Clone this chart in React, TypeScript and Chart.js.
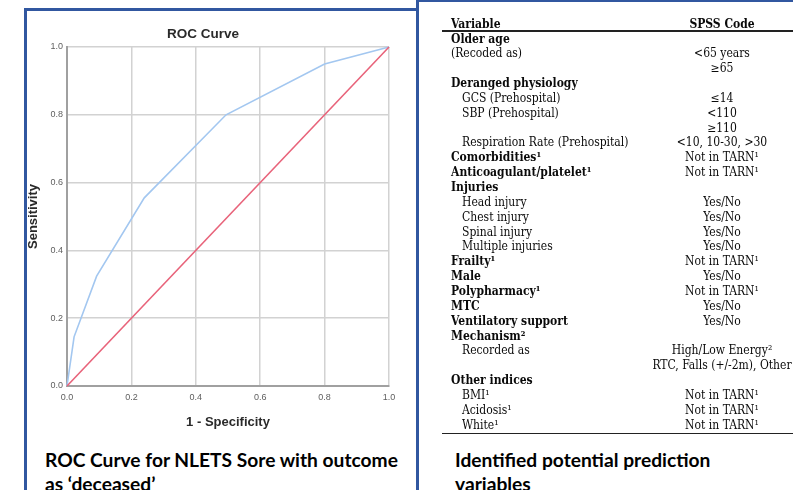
import React, { useEffect, useRef } from "react";
import { Chart, registerables } from "chart.js";

Chart.register(...registerables);

// ROC curve data
const rocFpr = [0, 0.022, 0.092, 0.24, 0.494, 0.8, 1];
const rocTpr = [0, 0.145, 0.324, 0.555, 0.8, 0.95, 1];
const refFpr = [0, 1];
const refTpr = [0, 1];

const chartTitle = "ROC Curve";
const xAxisTitle = "1 - Specificity";
const yAxisTitle = "Sensitivity";
const leftCaption = ["ROC Curve for NLETS Sore with outcome", "as \u2018deceased\u2019"];
const rightCaption = ["Identified potential prediction", "variables"];

// Table
const tableHeaders = ["Variable", "SPSS Code"];
const variableLabels = [
  "Older age",
  "(Recoded as)",
  "",
  "Deranged physiology",
  "GCS (Prehospital)",
  "SBP (Prehospital)",
  "",
  "Respiration Rate (Prehospital)",
  "Comorbidities\u00b9",
  "Anticoagulant/platelet\u00b9",
  "Injuries",
  "Head injury",
  "Chest injury",
  "Spinal injury",
  "Multiple injuries",
  "Frailty\u00b9",
  "Male",
  "Polypharmacy\u00b9",
  "MTC",
  "Ventilatory support",
  "Mechanism\u00b2",
  "Recorded as",
  "",
  "Other indices",
  "BMI\u00b9",
  "Acidosis\u00b9",
  "White\u00b9",
];
const spssCodes = [
  "",
  "<65 years",
  "\u226565",
  "",
  "\u226414",
  "<110",
  "\u2265110",
  "<10, 10-30, >30",
  "Not in TARN\u00b9",
  "Not in TARN\u00b9",
  "",
  "Yes/No",
  "Yes/No",
  "Yes/No",
  "Yes/No",
  "Not in TARN\u00b9",
  "Yes/No",
  "Not in TARN\u00b9",
  "Yes/No",
  "Yes/No",
  "",
  "High/Low Energy\u00b2",
  "RTC, Falls (+/-2m), Other",
  "",
  "Not in TARN\u00b9",
  "Not in TARN\u00b9",
  "Not in TARN\u00b9",
];
// g = group heading, s = sub item, n = note
const rowKinds = [
  "g", "n", "n", "g", "s", "s", "s", "s", "g", "g", "g", "s", "s", "s", "s",
  "g", "g", "g", "g", "g", "g", "s", "s", "g", "s", "s", "s",
];

const BLUE = "#3157a0";
const SERIF = '"DejaVu Serif Condensed", "DejaVu Serif", serif';
const CAPTION_FONT = 'Lato, "Open Sans", sans-serif';

function RocChart() {
  const ref = useRef<HTMLCanvasElement | null>(null);
  useEffect(() => {
    if (!ref.current) return;
    const axisFont = { family: "Liberation Sans, Arial, sans-serif", size: 13, weight: "bold" as const };
    const tickFont = { family: "Liberation Sans, Arial, sans-serif", size: 9 };
    const chart = new Chart(ref.current, {
      type: "scatter",
      data: {
        datasets: [
          {
            data: refFpr.map((x, i) => ({ x, y: refTpr[i] })),
            showLine: true,
            borderColor: "#e8637a",
            borderWidth: 1.6,
            pointRadius: 0,
            clip: 4,
          },
          {
            data: rocFpr.map((x, i) => ({ x, y: rocTpr[i] })),
            showLine: true,
            borderColor: "#a3c7f0",
            borderWidth: 1.6,
            pointRadius: 0,
            clip: 4,
          },
        ],
      },
      options: {
        responsive: false,
        animation: false,
        layout: { padding: { left: 0, right: 27, top: 37, bottom: 0 } },
        plugins: { legend: { display: false }, tooltip: { enabled: false } },
        scales: {
          x: {
            type: "linear",
            min: 0,
            max: 1,
            ticks: {
              stepSize: 0.2,
              font: tickFont,
              color: "#5e5e5e",
              padding: 6,
              callback: (v: any) => Number(v).toFixed(1),
            },
            grid: { color: "#d2d2d2", lineWidth: 1.5, drawTicks: false },
            border: { display: true, color: "#a0a0a0", width: 2 },
            title: {
              display: true,
              text: xAxisTitle,
              font: axisFont,
              color: "#2a2a2a",
              padding: { top: 0, bottom: 10 },
            },
            afterFit: (s: any) => {
              s.height = 54;
            },
          },
          y: {
            type: "linear",
            min: 0,
            max: 1,
            ticks: {
              stepSize: 0.2,
              font: tickFont,
              color: "#5e5e5e",
              padding: 4,
              callback: (v: any) => Number(v).toFixed(1),
            },
            grid: { color: "#d2d2d2", lineWidth: 1.5, drawTicks: false },
            border: { display: true, color: "#a0a0a0", width: 2 },
            title: {
              display: true,
              text: yAxisTitle,
              font: axisFont,
              color: "#2a2a2a",
              padding: { top: 0, bottom: 0 },
            },
            afterFit: (s: any) => {
              s.width = 41;
            },
          },
        },
      },
    });
    return () => chart.destroy();
  }, []);
  return <canvas ref={ref} width={390} height={430} style={{ width: 390, height: 430, display: "block" }} />;
}

export default function App() {
  const ROW0 = 38.5;
  const PITCH = 14.85;
  const cellBase = {
    position: "absolute" as const,
    height: 16,
    lineHeight: "16px",
    fontFamily: SERIF,
    fontStretch: "condensed",
    fontSize: 12,
    color: "#0a0a0a",
    whiteSpace: "nowrap" as const,
  };
  return (
    <div
      style={{
        position: "fixed",
        left: 0,
        top: 0,
        width: 793,
        height: 490,
        background: "#fff",
        overflow: "hidden",
      }}
    >
      {/* panel borders */}
      <div style={{ position: "absolute", left: 24, top: 8, width: 395, height: 3, background: BLUE }} />
      <div style={{ position: "absolute", left: 24, top: 8, width: 3, height: 490, background: BLUE }} />
      <div style={{ position: "absolute", left: 416, top: 0, width: 3, height: 490, background: BLUE }} />
      <div style={{ position: "absolute", left: 419, top: 0, width: 374, height: 2, background: BLUE }} />

      {/* chart */}
      <div style={{ position: "absolute", left: 26, top: 10, width: 390, height: 430 }}>
        <RocChart />
      </div>
      <div
        style={{
          position: "absolute",
          left: 103,
          top: 26,
          width: 200,
          textAlign: "center",
          font: "bold 13.5px 'Liberation Sans', Arial, sans-serif",
          color: "#2a2a2a",
          lineHeight: "16px",
        }}
      >
        {chartTitle}
      </div>

      {/* captions */}
      <div
        style={{
          position: "absolute",
          left: 45,
          top: 447.5,
          fontFamily: CAPTION_FONT,
          fontWeight: 700,
          fontSize: 19.2,
          lineHeight: "24px",
          color: "#000",
          whiteSpace: "nowrap",
        }}
      >
        {leftCaption.map((t, i) => (
          <div key={i}>{t}</div>
        ))}
      </div>
      <div
        style={{
          position: "absolute",
          left: 455,
          top: 447.5,
          fontFamily: CAPTION_FONT,
          fontWeight: 700,
          fontSize: 19.2,
          lineHeight: "24px",
          color: "#000",
          whiteSpace: "nowrap",
        }}
      >
        {rightCaption.map((t, i) => (
          <div key={i}>{t}</div>
        ))}
      </div>

      {/* table */}
      <div style={{ position: "absolute", left: 442, top: 30, width: 351, height: 2, background: "#222" }} />
      <div style={{ position: "absolute", left: 442, top: 432.5, width: 351, height: 1.5, background: "#222" }} />
      <div style={{ ...cellBase, left: 451, top: 23.5 - 8, fontWeight: 700 }}>{tableHeaders[0]}</div>
      <div style={{ ...cellBase, left: 622, width: 200, textAlign: "center", top: 23.5 - 8, fontWeight: 700 }}>
        {tableHeaders[1]}
      </div>
      {variableLabels.map((label, i) => {
        const y = ROW0 + i * PITCH - 8;
        const kind = rowKinds[i];
        return (
          <React.Fragment key={i}>
            {label && (
              <div
                style={{
                  ...cellBase,
                  left: kind === "s" ? 462 : 451,
                  top: y,
                  fontWeight: kind === "g" ? 700 : 400,
                }}
              >
                {label}
              </div>
            )}
            {spssCodes[i] && (
              <div style={{ ...cellBase, left: 622, width: 200, textAlign: "center", top: y }}>{spssCodes[i]}</div>
            )}
          </React.Fragment>
        );
      })}
    </div>
  );
}
